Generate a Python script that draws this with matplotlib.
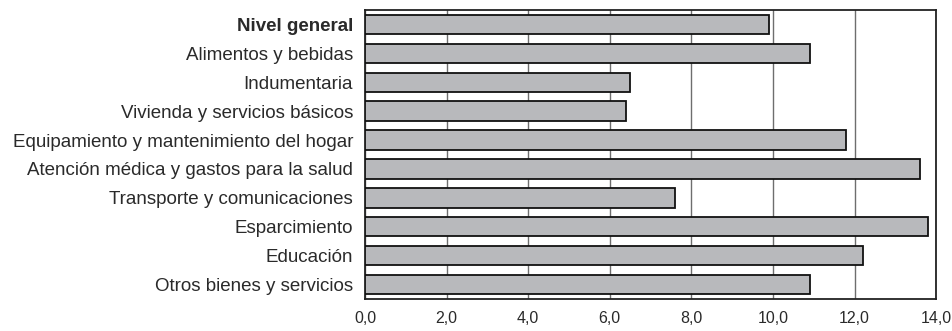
import matplotlib
matplotlib.use("Agg")
import matplotlib.pyplot as plt

# --- data ---
categories = [
    "Nivel general",
    "Alimentos y bebidas",
    "Indumentaria",
    "Vivienda y servicios básicos",
    "Equipamiento y mantenimiento del hogar",
    "Atención médica y gastos para la salud",
    "Transporte y comunicaciones",
    "Esparcimiento",
    "Educación",
    "Otros bienes y servicios",
]
values = [9.9, 10.9, 6.5, 6.4, 11.8, 13.6, 7.6, 13.8, 12.2, 10.9]
x_ticks = [0, 2, 4, 6, 8, 10, 12, 14]
x_tick_labels = ["0,0", "2,0", "4,0", "6,0", "8,0", "10,0", "12,0", "14,0"]

plt.rcParams['font.family'] = ['Liberation Sans', 'DejaVu Sans']

fig = plt.figure(figsize=(9.52, 3.31), dpi=100)
ax = fig.add_axes([0.3834, 0.0967, 0.6, 0.8731])

y = list(range(len(categories)))
ax.barh(y, values, height=0.67, color="#b8b9bc", edgecolor="#111111",
        linewidth=1.3, zorder=3)

ax.set_xlim(0, 14)
ax.set_ylim(len(categories) - 0.5, -0.5)
ax.set_xticks(x_ticks)
ax.set_xticklabels(x_tick_labels, fontsize=11.5, color="#2a2a2a")
ax.set_yticks(y)
ax.set_yticklabels(categories, fontsize=13.5, color="#2a2a2a")
ax.get_yticklabels()[0].set_fontweight("bold")
ax.tick_params(axis="both", length=0)
ax.tick_params(axis="y", pad=8.5)
ax.tick_params(axis="x", pad=9)

ax.grid(axis="x", color="#6e6e6e", linewidth=1.0, zorder=1)
for s in ax.spines.values():
    s.set_color("#222222")
    s.set_linewidth(1.3)

fig.savefig("out.png", dpi=100)
